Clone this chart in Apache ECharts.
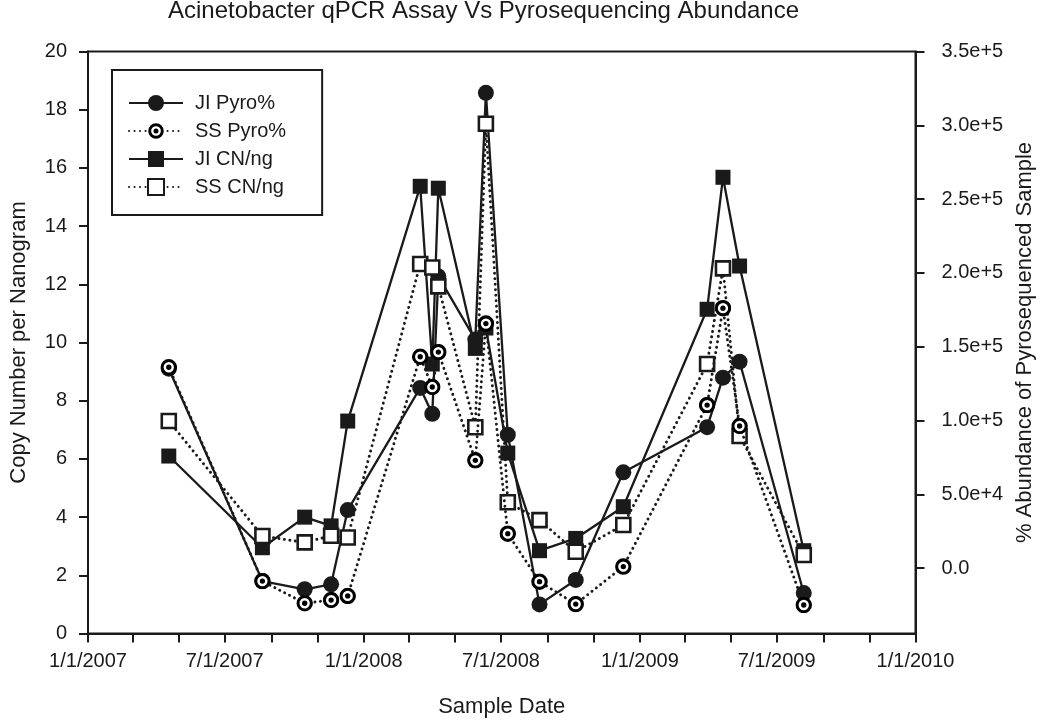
<!DOCTYPE html>
<html>
<head>
<meta charset="utf-8">
<script src="https://cdn.jsdelivr.net/npm/echarts@6/dist/echarts.min.js"></script>
<style>
html,body{margin:0;padding:0;background:#fff;}
#chart{width:1050px;height:724px;}
</style>
</head>
<body>
<div id="chart"></div>
<script>
// ---- data ----
const sampleDates = ['2007-04-18','2007-08-20','2007-10-15','2007-11-19','2007-12-11',
  '2008-03-16','2008-04-01','2008-04-09','2008-05-28','2008-06-11','2008-07-10',
  '2008-08-21','2008-10-08','2008-12-10','2009-03-31','2009-04-21','2009-05-13','2009-08-06'];
// left axis (0-20)
const jiPyro = [9.1, 1.8, 1.52, 1.69, 4.24, 8.44, 7.55, 12.27, 10.1, 18.58, 6.83, 1.0, 1.84, 5.54, 7.09, 8.79, 9.34, 1.39];
const ssPyro = [9.15, 1.8, 1.04, 1.15, 1.29, 9.51, 8.47, 9.67, 5.95, 10.65, 3.43, 1.78, 1.01, 2.3, 7.85, 11.18, 7.13, 0.98];
// right axis
const jiCN = [76000, 13900, 34600, 28700, 99700, 258700, 138300, 257400, 148900, 162700, 78000, 11900, 20200, 41700, 175400, 264800, 204700, 11900];
const ssCN = [99700, 21800, 17500, 22000, 20800, 206100, 203700, 190900, 95500, 301100, 44700, 32600, 11200, 29300, 138300, 203100, 89600, 9000];

const xLabelDates = ['2007-01-01','2007-07-01','2008-01-01','2008-07-01','2009-01-01','2009-07-01','2010-01-01'];
const xTickDates = ['2007-01-01','2007-03-01','2007-05-01','2007-07-01','2007-09-01','2007-11-01',
  '2008-01-01','2008-03-01','2008-05-01','2008-07-01','2008-09-01','2008-11-01',
  '2009-01-01','2009-03-01','2009-05-01','2009-07-01','2009-09-01','2009-11-01','2010-01-01'];
const leftTicks = [0,2,4,6,8,10,12,14,16,18,20];
const rightTicks = [0,50000,100000,150000,200000,250000,300000,350000];

// ---- helpers ----
function ts(s){ const p = s.split('-').map(Number); return new Date(p[0], p[1]-1, p[2]).getTime(); }
function fmtDate(v){ const d = new Date(v); return (d.getMonth()+1)+'/'+d.getDate()+'/'+d.getFullYear(); }
function fmtSci(v){ if (v === 0) return '0.0'; return v.toExponential(1); }

const FONT = "'Liberation Sans', Arial, Helvetica, sans-serif";
const INK = '#1a1a1a';

const ringDot = "<svg xmlns='http://www.w3.org/2000/svg' width='32' height='32' viewBox='0 0 32 32'>" +
  "<circle cx='16' cy='16' r='12.6' fill='white' stroke='black' stroke-width='5.8'/>" +
  "<circle cx='16' cy='16' r='5' fill='black'/></svg>";
const ringDotSymbol = 'image://data:image/svg+xml;charset=utf-8,' + encodeURIComponent(ringDot);

const pairs = vals => sampleDates.map((d,i) => [ts(d), vals[i]]);
const solid = {color: INK, width: 2.3, type: 'solid'};
const dotted = {color: INK, width: 2.9, type: [0.1, 5.4], cap: 'round'};

const chart = echarts.init(document.getElementById('chart'), null, {renderer: 'canvas'});
chart.setOption({
  animation: false,
  backgroundColor: '#fff',
  textStyle: {fontFamily: FONT},
  title: {
    text: 'Acinetobacter qPCR Assay Vs Pyrosequencing Abundance',
    left: 168, top: -1, padding: 0,
    textStyle: {fontSize: 24, fontWeight: 'normal', color: INK, fontFamily: FONT}
  },
  legend: {
    orient: 'vertical', left: 112, top: 70,
    padding: [23, 36, 18, 16],
    itemWidth: 54, itemHeight: 20, itemGap: 8,
    borderColor: INK, borderWidth: 2, backgroundColor: '#fff',
    textStyle: {fontSize: 20, color: INK, fontFamily: FONT, padding: [0,0,0,7]},
    data: ['JI Pyro%', 'SS Pyro%', 'JI CN/ng', 'SS CN/ng']
  },
  grid: {
    left: 84.5, right: 134.5, top: 51.5, bottom: 90.5,
    show: true, borderColor: INK, borderWidth: 2, backgroundColor: 'transparent'
  },
  xAxis: {
    type: 'value',
    min: ts('2007-01-01'), max: ts('2010-01-01'),
    name: 'Sample Date', nameLocation: 'middle', nameGap: 62,
    nameTextStyle: {fontSize: 22, color: INK, fontFamily: FONT},
    axisLine: {show: true, lineStyle: {color: INK, width: 2}},
    axisTick: {show: true, length: 9, lineStyle: {color: INK, width: 2}, customValues: xTickDates.map(ts)},
    axisLabel: {fontSize: 20, color: INK, margin: 18, customValues: xLabelDates.map(ts), formatter: fmtDate, fontFamily: FONT},
    splitLine: {show: false}
  },
  yAxis: [
    {
      type: 'value', position: 'left', min: 0, max: 20, interval: 2,
      name: 'Copy Number per Nanogram', nameLocation: 'middle', nameGap: 58, nameRotate: 90,
      nameTextStyle: {fontSize: 22, color: INK, fontFamily: FONT},
      axisLine: {show: true, lineStyle: {color: INK, width: 2}},
      axisTick: {show: true, length: 9, lineStyle: {color: INK, width: 2}, customValues: leftTicks},
      axisLabel: {fontSize: 20, color: INK, margin: 21, customValues: leftTicks, fontFamily: FONT},
      splitLine: {show: false}
    },
    {
      type: 'value', position: 'right', min: -44200, max: 350000,
      name: '% Abundance of Pyrosequenced Sample', nameLocation: 'middle', nameGap: 98, nameRotate: 90,
      nameTextStyle: {fontSize: 22, color: INK, fontFamily: FONT},
      axisLine: {show: true, lineStyle: {color: INK, width: 2}},
      axisTick: {show: true, length: 9, lineStyle: {color: INK, width: 2}, customValues: rightTicks},
      axisLabel: {fontSize: 20, color: INK, margin: 26, customValues: rightTicks, formatter: fmtSci, fontFamily: FONT},
      splitLine: {show: false}
    }
  ],
  series: [
    {
      name: 'JI Pyro%', type: 'line', yAxisIndex: 0, z: 3,
      data: pairs(jiPyro), symbol: 'circle', symbolSize: 16, showAllSymbol: true, clip: false,
      lineStyle: solid, itemStyle: {color: INK}
    },
    {
      name: 'SS Pyro%', type: 'line', yAxisIndex: 0, z: 5,
      data: pairs(ssPyro), symbol: ringDotSymbol, symbolSize: 17, showAllSymbol: true, clip: false,
      lineStyle: dotted, itemStyle: {color: INK}
    },
    {
      name: 'JI CN/ng', type: 'line', yAxisIndex: 1, z: 2,
      data: pairs(jiCN), symbol: 'rect', symbolSize: 15, showAllSymbol: true, clip: false,
      lineStyle: solid, itemStyle: {color: INK}
    },
    {
      name: 'SS CN/ng', type: 'line', yAxisIndex: 1, z: 4,
      data: pairs(ssCN), symbol: 'rect', symbolSize: 14, showAllSymbol: true, clip: false,
      lineStyle: dotted, itemStyle: {color: '#fff', borderColor: INK, borderWidth: 2.6}
    }
  ]
});
</script>
</body>
</html>
